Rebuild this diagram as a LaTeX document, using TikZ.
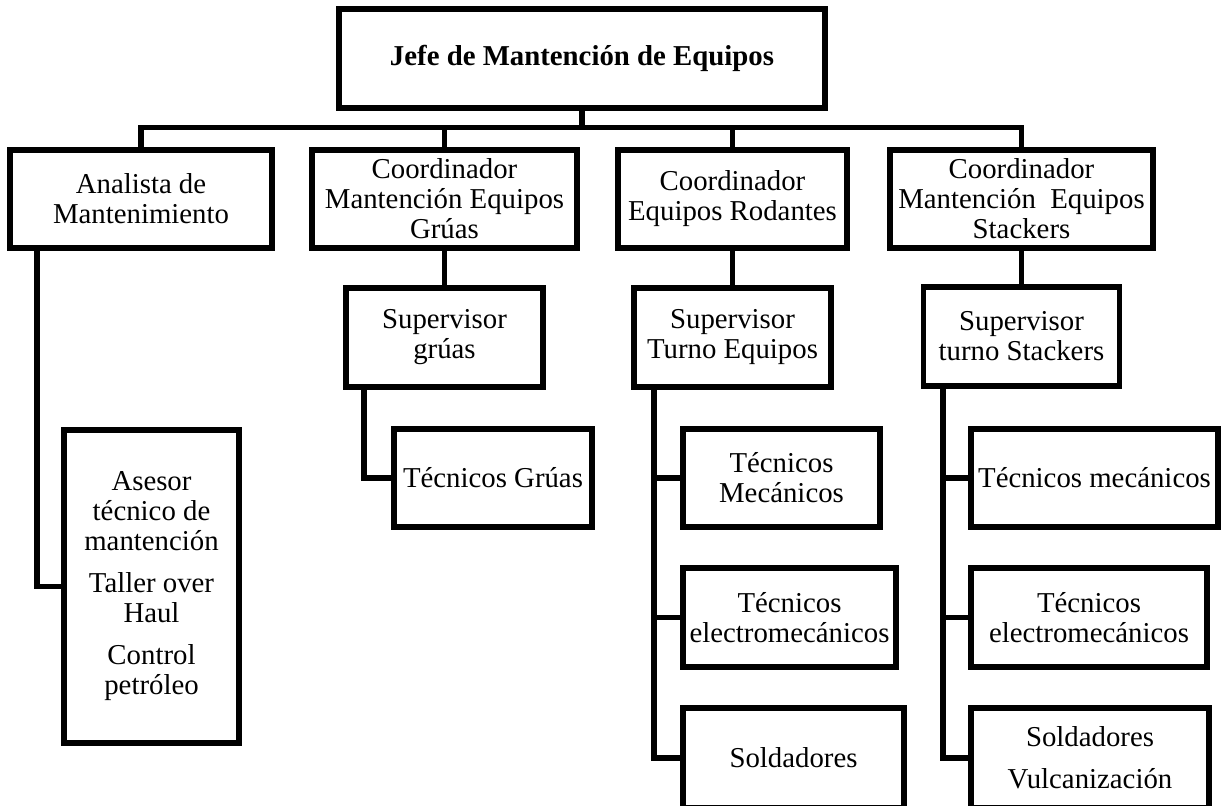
\documentclass[tikz,border=0pt]{standalone}
\usepackage{fontspec}
\setmainfont{Liberation Serif}
\begin{document}
\begin{tikzpicture}[x=0.5pt,y=-0.5pt,
  box/.style={draw=black, line width=2.6pt, rectangle, inner sep=0pt,
              align=center, font=\fontsize{14.4}{15}\selectfont},
  link/.style={draw=black, line width=2.6pt}]
\useasboundingbox (0,0) rectangle (1232,806);
\fill[white] (0,0) rectangle (1232,806);

% head of the department
\node[box, font=\bfseries\fontsize{14.4}{15}\selectfont,
      minimum width=243pt, minimum height=49.5pt] (top) at (582,58.5)
      {Jefe de Mantención de Equipos};

% second level
\node[box, minimum width=131pt, minimum height=49pt] (A) at (141,199)
      {Analista de\\Mantenimiento};
\node[box, minimum width=132.5pt, minimum height=49pt] (G) at (444.5,199)
      {Coordinador\\Mantención Equipos\\Grúas};
\node[box, minimum width=114.5pt, minimum height=49pt] (R) at (732.5,199)
      {Coordinador\\Equipos Rodantes};
\node[box, minimum width=131.5pt, minimum height=49pt] (S) at (1021.5,199)
      {Coordinador\\Mantención\ \ Equipos\\Stackers};

% supervisors
\node[box, minimum width=98.5pt, minimum height=49.5pt] (SG) at (444.5,337.5)
      {Supervisor\\grúas};
\node[box, minimum width=98.5pt, minimum height=49.5pt] (SR) at (732.5,337.5)
      {Supervisor\\Turno Equipos};
\node[box, minimum width=98pt, minimum height=49.5pt] (SS) at (1021.5,336.5)
      {Supervisor\\turno Stackers};

% technicians
\node[box, minimum width=99pt, minimum height=49pt] (TG) at (493,478)
      {Técnicos Grúas};
\node[box, minimum width=98.5pt, minimum height=49pt] (TM) at (781.5,478)
      {Técnicos\\Mecánicos};
\node[box, minimum width=123.5pt, minimum height=49pt] (TMS) at (1094.5,478)
      {Técnicos mecánicos};
\node[box, minimum width=106.5pt, minimum height=49.5pt] (TE1) at (789.5,617.5)
      {Técnicos\\electromecánicos};
\node[box, minimum width=118pt, minimum height=49.5pt] (TE2) at (1089,617.5)
      {Técnicos\\electromecánicos};
\node[box, minimum width=110.5pt, minimum height=50pt] (SO1) at (793.5,758)
      {Soldadores};
\node[box, minimum width=119pt, minimum height=50pt] (SO2) at (1090,758)
      {Soldadores\\[6pt]Vulcanización};

% advisor under the analyst
\node[box, minimum width=87.5pt, minimum height=156.5pt] (AS) at (151.5,586.5)
      {Asesor\\técnico de\\mantención\\[6pt]Taller over\\Haul\\[6pt]Control\\petróleo};

% trunk positions of the side branches
\coordinate (bus) at (582,130);
\coordinate (ak) at (37,0);
\coordinate (gk) at (364,0);
\coordinate (rk) at (654,0);
\coordinate (sk) at (943,0);

% top bus
\draw[link] (top.south) -- (bus);
\draw[link] (A.north) -- ++(0,-20) -| (S.north);
\draw[link] (G.north) -- (G.north |- bus);
\draw[link] (R.north) -- (R.north |- bus);

% coordinators to supervisors
\draw[link] (G.south) -- (SG.north);
\draw[link] (R.south) -- (SR.north);
\draw[link] (S.south) -- (S.south |- SS.north);

% analyst branch
\draw[link] (A.south -| ak) |- (AS.west);

% cranes branch
\draw[link] (SG.south -| gk) |- (TG.west);

% rolling equipment branch
\draw[link] (SR.south -| rk) |- (SO1.west);
\draw[link] (rk |- TM.west) -- (TM.west);
\draw[link] (rk |- TE1.west) -- (TE1.west);

% stackers branch
\draw[link] (SS.south -| sk) |- (SO2.west);
\draw[link] (sk |- TMS.west) -- (TMS.west);
\draw[link] (sk |- TE2.west) -- (TE2.west);
\end{tikzpicture}
\end{document}
